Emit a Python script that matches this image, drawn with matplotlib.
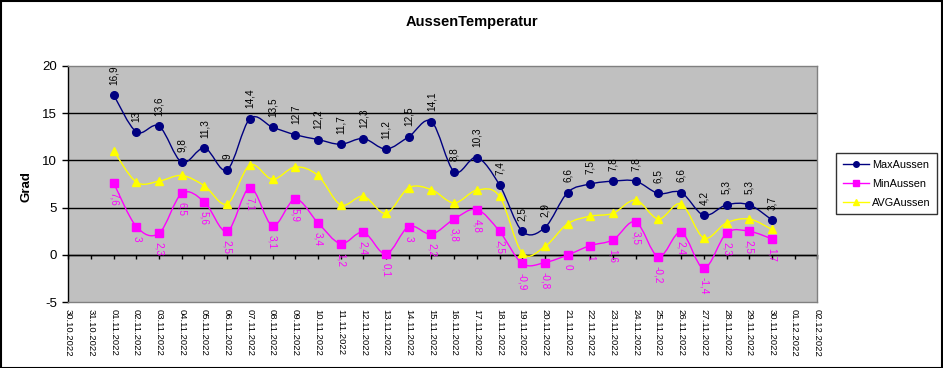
import matplotlib
matplotlib.use("Agg")
import matplotlib.pyplot as plt
from matplotlib.path import Path
from matplotlib.patches import PathPatch, Rectangle
from matplotlib.lines import Line2D
import numpy as np

plt.rcParams['font.family'] = ['Liberation Sans', 'DejaVu Sans']

dates = ["30.10.2022", "31.10.2022"] + ["%02d.11.2022" % d for d in range(1, 31)] + ["01.12.2022", "02.12.2022"]
data_dates = ["%02d.11.2022" % d for d in range(1, 31)]

max_aussen = [16.9, 13, 13.6, 9.8, 11.3, 9, 14.4, 13.5, 12.7, 12.2, 11.7, 12.3, 11.2, 12.5, 14.1,
              8.8, 10.3, 7.4, 2.5, 2.9, 6.6, 7.5, 7.8, 7.8, 6.5, 6.6, 4.2, 5.3, 5.3, 3.7]
min_aussen = [7.6, 3, 2.3, 6.5, 5.6, 2.5, 7.1, 3.1, 5.9, 3.4, 1.2, 2.4, 0.1, 3, 2.2,
              3.8, 4.8, 2.5, -0.9, -0.8, 0, 1, 1.6, 3.5, -0.2, 2.4, -1.4, 2.3, 2.5, 1.7]
avg_aussen = [11.0, 7.7, 7.8, 8.4, 7.3, 5.4, 9.5, 8.0, 9.3, 8.4, 5.3, 6.2, 4.4, 7.1, 6.9,
              5.5, 6.85, 6.2, 0.2, 0.9, 3.3, 4.1, 4.4, 5.8, 3.8, 5.4, 1.8, 3.4, 3.8, 2.7]

W, H = 943, 368
fig = plt.figure(figsize=(W / 100, H / 100), dpi=100)
fig.patch.set_facecolor('white')
ax = fig.add_axes([68.3 / W, 1 - 302.3 / H, (817.3 - 68.3) / W, (302.3 - 65.7) / H])
ax.set_facecolor('#C0C0C0')

xpos = {d: i for i, d in enumerate(dates)}
xs = np.array([xpos[d] for d in data_dates], dtype=float)


def smooth_path(x, y):
    pts = np.column_stack([x, y])
    n = len(pts)
    verts = [pts[0]]
    codes = [Path.MOVETO]
    for i in range(n - 1):
        p0 = pts[max(i - 1, 0)]
        p1 = pts[i]
        p2 = pts[i + 1]
        p3 = pts[min(i + 2, n - 1)]
        c1 = p1 + (p2 - p0) / 6.0
        c2 = p2 - (p3 - p1) / 6.0
        verts += [c1, c2, p2]
        codes += [Path.CURVE4] * 3
    return Path(verts, codes)


series = [
    ("MaxAussen", max_aussen, '#000080', 'o', 5.5),
    ("MinAussen", min_aussen, '#FF00FF', 's', 6),
    ("AVGAussen", avg_aussen, '#FFFF00', '^', 6),
]

for name, vals, col, mk, ms in series:
    ax.add_patch(PathPatch(smooth_path(xs, np.array(vals, dtype=float)), facecolor='none',
                           edgecolor=col, lw=1.0, zorder=3))
    ax.plot(xs, vals, linestyle='none', marker=mk, color=col, markersize=ms,
            markeredgecolor=col, zorder=4)


def fmt(v):
    return ("%g" % v).replace('.', ',')

for x, v in zip(xs, max_aussen):
    ax.annotate(fmt(v), (x, v), xytext=(0, 7.5), textcoords='offset points', rotation=90,
                ha='center', va='bottom', fontsize=7.2, color='black', zorder=5)
for x, v in zip(xs, min_aussen):
    ax.annotate(fmt(v), (x, v), xytext=(0, -6.5), textcoords='offset points', rotation=270,
                ha='center', va='top', fontsize=7.2, color='#FF00FF', zorder=5)

ax.set_xlim(0, len(dates) - 1)
ax.set_ylim(-5, 20)
ax.set_yticks([-5, 0, 5, 10, 15, 20])
ax.set_yticklabels(['-5', '0', '5', '10', '15', '20'], fontsize=9.5)
for yv in [0, 5, 10, 15]:
    ax.axhline(yv, color='black', lw=1.0, zorder=1)

ax.set_xticks(range(len(dates)))
ax.set_xticklabels(dates, rotation=270, fontsize=6.8, ha='center', va='top')
ax.tick_params(axis='x', length=0, pad=5)
ax.tick_params(axis='y', length=4, width=1, direction='out', pad=4, colors='black')

for side in ['top', 'right', 'bottom']:
    ax.spines[side].set_color('#808080')
    ax.spines[side].set_linewidth(1.0)
ax.spines['left'].set_color('black')
ax.spines['left'].set_linewidth(1.0)

sec = ax.secondary_xaxis(0.2)
sec.set_xticks(range(len(dates)))
sec.set_xticklabels([])
sec.tick_params(axis='x', length=3, width=1, direction='out', colors='black')
sec.spines['bottom'].set_color('black')
sec.spines['bottom'].set_linewidth(1.0)

fig.text(472 / W, 1 - 22 / H, "AussenTemperatur", ha='center', va='center',
         fontsize=10.5, fontweight='bold')
fig.text(27 / W, 1 - 187 / H, "Grad", ha='center', va='center', rotation=90,
         fontsize=9.5, fontweight='bold')

handles = [Line2D([], [], color=c, marker=m, markersize=4, lw=1.0) for _, _, c, m, _ in series]
leg = fig.legend(handles, [s[0] for s in series], loc='upper left',
                 bbox_to_anchor=(836 / W, 1 - 153 / H), fontsize=7.8, frameon=True,
                 fancybox=False, edgecolor='black', handlelength=2.4, labelspacing=0.85,
                 borderpad=0.6, handletextpad=0.35, borderaxespad=0)
leg.get_frame().set_linewidth(1.0)

fig.patches.append(Rectangle((0.5 / W, 0.5 / H), 1 - 2 / W, 1 - 1.5 / H, transform=fig.transFigure,
                             fill=False, edgecolor='black', lw=1.5))

fig.savefig('out.png', dpi=100, facecolor='white')
